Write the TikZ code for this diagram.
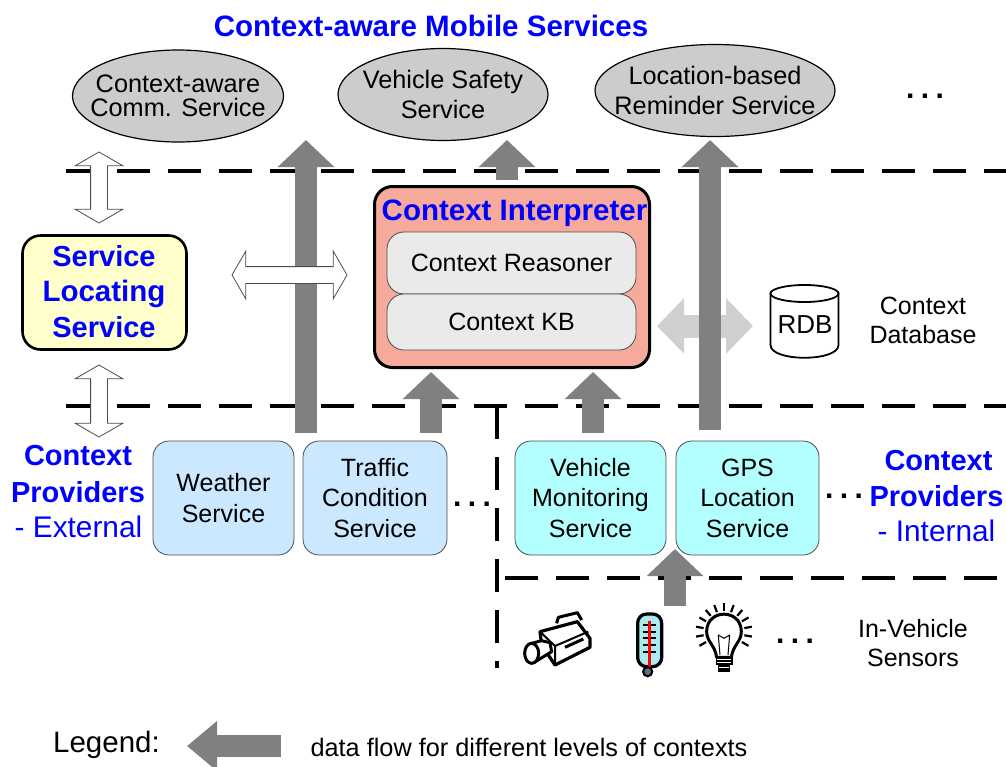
\documentclass[tikz,border=0pt]{standalone}
\usepackage{fontspec}
\setmainfont{Liberation Sans}
\usetikzlibrary{arrows.meta,shapes.geometric,shapes.arrows}
\definecolor{ctxblue}{RGB}{0,0,255}
\definecolor{flowgray}{RGB}{128,128,128}
\definecolor{lightflow}{RGB}{208,208,208}
\definecolor{ovalgray}{RGB}{204,204,204}
\definecolor{slsfill}{RGB}{255,255,204}
\definecolor{interpfill}{RGB}{245,170,155}
\definecolor{innerfill}{RGB}{234,234,234}
\definecolor{extfill}{RGB}{204,232,255}
\definecolor{intfill}{RGB}{179,255,255}
\definecolor{thermofill}{RGB}{170,235,240}
\definecolor{thermobulb}{RGB}{90,110,140}
\newcommand{\fs}[1]{\fontsize{#1}{#1}\selectfont}
\newcommand{\threedots}{.\kern6.5pt.\kern6.5pt.}
\tikzset{
  x=1pt,y=-1pt,
  oval/.style={ellipse,draw=black,line width=1.2pt,fill=ovalgray,minimum height=92pt,inner xsep=-50pt,inner ysep=-30pt,align=center,font=\fs{25.3}},
  lbl/.style={inner sep=0pt,align=center,font=\fs{25}},
  provider/.style={rounded corners=16pt,draw=black!70,line width=0.8pt,minimum height=114pt,inner sep=0pt,align=center,font=\fs{25}},
  inner box/.style={rounded corners=17pt,draw=black!70,line width=0.8pt,fill=innerfill,minimum width=249pt,inner sep=0pt,font=\fs{25}},
  boundary/.style={line width=3.4pt,dash pattern=on 33pt off 18pt,line cap=butt},
  flow/.style={line width=22pt,draw=flowgray,-{Triangle[length=27pt,width=55pt]}},
  lightdouble/.style={line width=23pt,draw=lightflow,{Triangle[length=27pt,width=54pt]}-{Triangle[length=27pt,width=54pt]}},
  whitedouble/.style={double arrow,draw=black!70,fill=white,line width=0.8pt,inner xsep=0pt,inner ysep=8pt,minimum width=0pt,double arrow head extend=15.5pt,double arrow tip angle=120},
  head/.style={inner sep=0pt,text=ctxblue,font=\bfseries\fs{29}},
  subhead/.style={inner sep=0pt,text=ctxblue,font=\fs{29.8}},
  dots/.style={inner sep=0pt,font=\bfseries\fs{30}},
}
\begin{document}
\begin{tikzpicture}
\useasboundingbox (0,0) rectangle (1006,766);
\fill[white] (0,0) rectangle (1006,766);

% boundaries
\coordinate (d1a) at (66,171); \coordinate (d1b) at (1006,171);
\coordinate (d2a) at (66,406); \coordinate (d2b) at (1006,406);
\coordinate (d3a) at (505,578); \coordinate (d3b) at (1006,578);
\coordinate (d4a) at (497,406); \coordinate (d4b) at (497,668);
\draw[boundary] (d1a) -- (d1b);
\draw[boundary] (d2a) -- (d2b);
\draw[boundary] (d3a) -- (d3b);
\draw[boundary] (d4a) -- (d4b);

\node[inner sep=0pt,text=ctxblue,font=\bfseries\fs{29.5}] (title) at (431,26) {Context-aware Mobile Services};

\node[oval,minimum width=211pt] (o1) at (178,96) {Context-aware\\[-1pt]Comm. Service};
\node[oval,minimum width=210pt] (o2) at (443,94.5) {Vehicle Safety\\[4pt]Service};
\node[oval,minimum width=240pt] (o3) at (715,90.5) {Location-based\\[5pt]Reminder Service};
\node[dots] (dotsa) at (925,96) {\threedots};

% light double arrow
\coordinate (la) at (657,326); \coordinate (lb) at (753,326);
\draw[lightdouble] (la) -- (lb);

% flow arrows
\coordinate (f1s) at (306,433); \coordinate (f1e) at (306,140);
\coordinate (f2s) at (507,180); \coordinate (f2e) at (507,140);
\coordinate (f3s) at (710,430); \coordinate (f3e) at (710,140);
\coordinate (f4s) at (431,433); \coordinate (f4e) at (431,372);
\coordinate (f5s) at (593,433); \coordinate (f5e) at (593,372);
\coordinate (f6s) at (675,606); \coordinate (f6e) at (675,549);
\coordinate (f7s) at (281,746); \coordinate (f7e) at (187,746);
\draw[flow] (f1s) -- (f1e);
\draw[flow] (f3s) -- (f3e);
\draw[flow] (f2s) -- (f2e);

% service locating
\node[draw=black,line width=2.6pt,rounded corners=18pt,fill=slsfill,minimum width=164pt,minimum height=114pt,inner sep=0pt] (sls) at (104.5,292.5) {};
\node[inner sep=0pt,text=ctxblue,font=\bfseries\fs{29}] (slsa) at (104,256) {Service};
\node[inner sep=0pt,text=ctxblue,font=\bfseries\fs{29.5}] (slsb) at (104,294) {Locating};
\node[inner sep=0pt,text=ctxblue,font=\bfseries\fs{29}] (slsc) at (104,327) {Service};

% white double arrows
\node[whitedouble,rotate=90,minimum height=71pt] (w1) at (99,187.5) {};
\node[whitedouble,rotate=90,minimum height=72pt] (w2) at (99,401) {};
\node[whitedouble,minimum height=115pt] (w3) at (289.5,275) {};

% interpreter
\node[draw=black,line width=3pt,rounded corners=18pt,fill=interpfill,minimum width=275pt,minimum height=181pt,inner sep=0pt] (interp) at (512,277) {};
\node[inner sep=0pt,text=ctxblue,font=\bfseries\fs{29.5}] (interpt) at (514.5,213) {Context Interpreter};
\node[inner box,minimum height=62pt] (reasoner) at (511.5,263) {Context Reasoner};
\node[inner box,minimum height=56pt] (kb) at (511.5,322) {Context KB};
\draw[flow] (f4s) -- (f4e);
\draw[flow] (f5s) -- (f5e);

% providers
\node[provider,fill=extfill,minimum width=141pt] (weather) at (223.5,498) {Weather\\[5.5pt]Service};
\node[provider,fill=extfill,minimum width=144pt] (traffic) at (375,498) {Traffic\\[5.5pt]Condition\\[5.5pt]Service};
\node[provider,fill=intfill,minimum width=151pt] (vehicle) at (590.5,498) {Vehicle\\[5.5pt]Monitoring\\[5.5pt]Service};
\node[provider,fill=intfill,minimum width=143pt] (gps) at (747.5,498) {GPS\\[5.5pt]Location\\[5.5pt]Service};
\draw[flow] (f6s) -- (f6e);

\node[dots] (dotsb) at (472,504) {\threedots};
\node[dots] (dotsc) at (844,496) {\threedots};

\node[head] (cpe1) at (78,456) {Context};
\node[head] (cpe2) at (78,492) {Providers};
\node[subhead] (cpe3) at (78.5,527) {- External};
\node[head] (cpi1) at (938.5,461) {Context};
\node[head] (cpi2) at (936.5,496) {Providers};
\node[subhead] (cpi3) at (936.5,531) {- Internal};

% database
\path[draw=black,line width=1.8pt,fill=white] (770.5,293.5) -- (770.5,345) .. controls (770.5,362) and (838.5,362) .. (838.5,345) -- (838.5,293.5) -- cycle;
\draw[line width=1.8pt,fill=white] (804.5,293.5) ellipse [x radius=34,y radius=8.5];
\node[inner sep=0pt,font=\fs{26}] (rdbt) at (805,325) {RDB};
\node[lbl] (cdb) at (923,320) {Context\\[4pt]Database};
\node[lbl] (sens) at (913,643) {In-Vehicle\\[4pt]Sensors};
\node[dots] (dotsd) at (795,641) {\threedots};

% icons
\begin{scope}[shift={(500pt,-570pt)},x=0.3333pt,y=-0.3333pt,line join=round]
  % camera
  \draw[line width=3pt] (170,160) -- (175,142) -- (232,128) -- (245,150);
  \draw[line width=3.2pt,fill=white] (120,185) -- (232,155) -- (270,205) -- (270,232) -- (165,285) -- (125,225) -- cycle;
  \draw[line width=2pt] (120,185) -- (165,228) -- (165,285);
  \draw[line width=2pt] (165,228) -- (265,185);
  \draw[line width=3pt,fill=white] (125,212) -- (88,222) -- (103,277) -- (155,245) -- (150,218) -- cycle;
  \draw[line width=3pt,fill=white] (95,250) ellipse [x radius=21,y radius=30];
  \draw[line width=3pt] (195,232) -- (250,207);
  % thermometer
  \draw[line width=3.2pt,fill=thermofill,rounded corners=9pt] (413,132) rectangle (485,290);
  \foreach \yy in {165,185,205,225,245} {
    \draw[line width=2pt] (428,\yy) -- (468,\yy);
  }
  \draw[line width=3.6pt,red] (448,152) -- (448,292);
  \fill[black] (443,305) circle[radius=17];
  \fill[thermobulb] (443,305) circle[radius=10];
  % bulb
  \draw[line width=3pt,fill=white] (650,262) .. controls (645,225) and (620,215) .. (620,185) .. controls (620,115) and (724,115) .. (724,185) .. controls (724,215) and (699,225) .. (694,262) -- cycle;
  \draw[line width=1pt] (660,255) -- (655,195) -- (672,205) -- (689,195) -- (684,255);
  \fill[black] (648,258) rectangle (698,285);
  \fill[white] (652,266) rectangle (694,269);
  \fill[white] (652,275) rectangle (694,278);
  \fill[black] (655,285) rectangle (690,305);
  \fill[white] (658,292) rectangle (688,295);
  \foreach \a in {-30,-10,10,30,50,70,90,110,130,150,170,190,210} {
    \draw[line width=2.2pt] ({672+62*cos(\a)},{185-62*sin(\a)}) -- ({672+85*cos(\a)},{185-85*sin(\a)});
  }
\end{scope}

% legend
\node[inner sep=0pt,font=\fs{29.5}] (legend) at (106.5,745) {Legend:};
\draw[flow,-{Triangle[length=30pt,width=48pt]}] (f7s) -- (f7e);
\node[inner sep=0pt,font=\fs{25.3}] (legt) at (529,747) {data flow for different levels of contexts};
\end{tikzpicture}
\end{document}
